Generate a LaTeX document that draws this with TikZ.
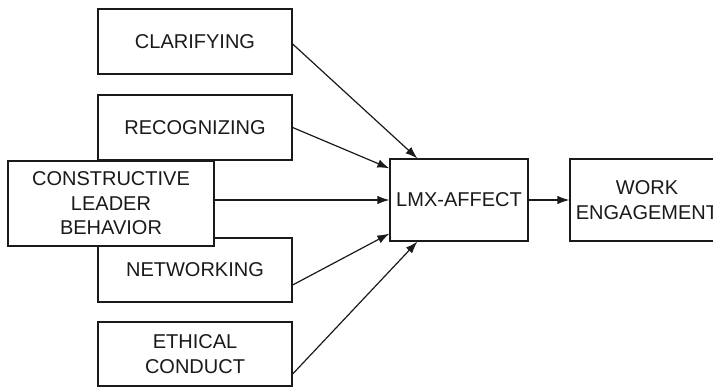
\documentclass[tikz,border=0pt]{standalone}
\usepackage{fontspec}
\setmainfont{Liberation Sans}
\usetikzlibrary{arrows.meta}
\definecolor{ink}{HTML}{1A1A1A}
\begin{document}
\begin{tikzpicture}[x=1pt,y=-1pt,
  box/.style={draw=ink, line width=1.3pt, fill=white, rectangle, inner sep=0pt,
    align=center, text=ink, font=\fontsize{20}{24.5}\selectfont},
  conn/.style={draw=ink, line width=1.2pt, -{Latex[length=12pt,width=8.5pt]}}]
\clip (0,0) rectangle (713,387);
\node[box, minimum width=194pt, minimum height=65pt] (clar) at (195,41.5) {CLARIFYING};
\node[box, minimum width=194pt, minimum height=65pt] (recog) at (195,127.5) {RECOGNIZING};
\node[box, minimum width=194pt, minimum height=64pt] (netw) at (195,270) {NETWORKING};
\node[box, minimum width=194pt, minimum height=64pt] (eth) at (195,354) {ETHICAL\\CONDUCT};
\node[box, minimum width=206pt, minimum height=85pt] (cons) at (111,203.5) {CONSTRUCTIVE\\LEADER\\BEHAVIOR};
\node[box, minimum width=138pt, minimum height=82pt] (lmx) at (459,200) {LMX-AFFECT};
\node[box, minimum width=154pt, minimum height=82pt] (work) at (647,200) {WORK\\ENGAGEMENT};
\draw[conn] ([yshift=-2.5pt]clar.east) -- ([xshift=28pt]lmx.north west);
\draw[conn] (recog.east) -- ([yshift=-10pt]lmx.north west);
\draw[conn] (cons.east |- lmx.west) -- (lmx.west);
\draw[conn] ([yshift=-15pt]netw.east) -- ([yshift=8pt]lmx.south west);
\draw[conn] ([yshift=-20pt]eth.east) -- ([xshift=28pt]lmx.south west);
\draw[conn] (lmx.east) -- (work.west);
\end{tikzpicture}
\end{document}
